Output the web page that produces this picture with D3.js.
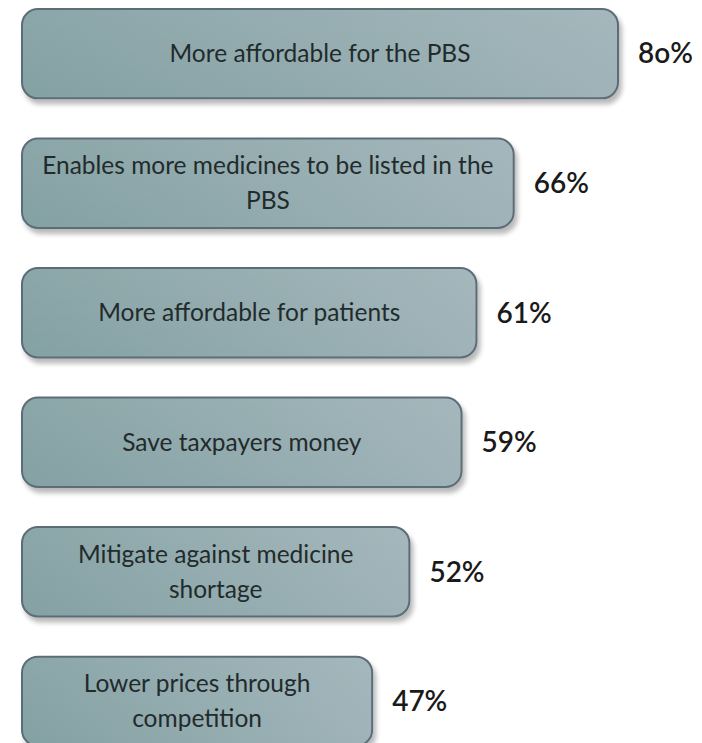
<!DOCTYPE html>
<html>
<head>
<meta charset="utf-8">
<script src="https://cdn.jsdelivr.net/npm/d3@7"></script>
<style>
  html, body { margin: 0; padding: 0; background: #ffffff; }
  svg { display: block; }
</style>
</head>
<body>
<div id="chart"></div>
<script>
// ---- data ----
const categories = [
  "More affordable for the PBS",
  "Enables more medicines to be listed in the PBS",
  "More affordable for patients",
  "Save taxpayers money",
  "Mitigate against medicine shortage",
  "Lower prices through competition"
];
const values = [80, 66, 61, 59, 52, 47];
const valueLabels = ["8o%", "66%", "61%", "59%", "52%", "47%"];
// manual line breaks for the bar text
const categoryLines = [
  ["More affordable for the PBS"],
  ["Enables more medicines to be listed in the", "PBS"],
  ["More affordable for patients"],
  ["Save taxpayers money"],
  ["Mitigate against medicine", "shortage"],
  ["Lower prices through", "competition"]
];

// ---- layout ----
const W = 702, H = 743;
const svg = d3.select("#chart").append("svg").attr("width", W).attr("height", H);

const x = d3.scaleLinear().domain([0, 100]).range([22, 767]);
const y = d3.scaleBand().domain(categories).range([9, 746]).paddingInner(0.31).paddingOuter(0);

const defs = svg.append("defs");
const grad = defs.append("linearGradient").attr("id", "barGrad")
  .attr("x1", "0%").attr("y1", "0%").attr("x2", "100%").attr("y2", "0%");
grad.append("stop").attr("offset", "0%").attr("stop-color", "#84a1a3");
grad.append("stop").attr("offset", "100%").attr("stop-color", "#9fb3b8");

const vgrad = defs.append("linearGradient").attr("id", "barShade")
  .attr("x1", "0%").attr("y1", "0%").attr("x2", "0%").attr("y2", "100%");
vgrad.append("stop").attr("offset", "0%").attr("stop-color", "#ffffff").attr("stop-opacity", 0.06);
vgrad.append("stop").attr("offset", "100%").attr("stop-color", "#ffffff").attr("stop-opacity", 0.0);

const filt = defs.append("filter").attr("id", "shadow")
  .attr("x", "-5%").attr("y", "-10%").attr("width", "115%").attr("height", "135%");
filt.append("feGaussianBlur").attr("in", "SourceAlpha").attr("stdDeviation", 2.5).attr("result", "b");
filt.append("feOffset").attr("in", "b").attr("dx", 3).attr("dy", 5).attr("result", "o");
filt.append("feComponentTransfer").attr("in", "o").attr("result", "s")
  .append("feFuncA").attr("type", "linear").attr("slope", 0.28);
const merge = filt.append("feMerge");
merge.append("feMergeNode").attr("in", "s");
merge.append("feMergeNode").attr("in", "SourceGraphic");

const rows = svg.selectAll("g.row").data(categories).join("g").attr("class", "row");

rows.append("rect")
  .attr("x", x(0))
  .attr("y", d => y(d))
  .attr("width", (d, i) => x(values[i]) - x(0))
  .attr("height", y.bandwidth())
  .attr("rx", 16).attr("ry", 16)
  .attr("fill", "url(#barGrad)")
  .attr("stroke", "#5d6d78")
  .attr("stroke-width", 2)
  .attr("filter", "url(#shadow)");

rows.append("rect")
  .attr("x", x(0) + 1)
  .attr("y", d => y(d) + 1)
  .attr("width", (d, i) => x(values[i]) - x(0) - 2)
  .attr("height", y.bandwidth() - 2)
  .attr("rx", 15).attr("ry", 15)
  .attr("fill", "url(#barShade)");

const fontFam = "Lato, 'Open Sans', sans-serif";
const lineH = 35;

rows.each(function(d, i) {
  const g = d3.select(this);
  const lines = categoryLines[i];
  const cx = (x(0) + x(values[i])) / 2;
  const cy = y(d) + y.bandwidth() / 2;
  const t = g.append("text")
    .attr("x", cx)
    .attr("text-anchor", "middle")
    .attr("font-family", fontFam)
    .attr("font-size", 24.5)
    .attr("fill", "#222b2c");
  lines.forEach((ln, k) => {
    t.append("tspan")
      .attr("x", cx)
      .attr("y", cy + (k - (lines.length - 1) / 2) * lineH)
      .attr("dy", "0.35em")
      .text(ln);
  });
});

rows.append("text")
  .attr("x", (d, i) => x(values[i]) + 20)
  .attr("y", d => y(d) + y.bandwidth() / 2)
  .attr("dy", "0.35em")
  .attr("font-family", fontFam)
  .attr("font-size", 28)
  .attr("font-weight", 600)
  .attr("fill", "#1a1a1a")
  .text((d, i) => valueLabels[i]);
</script>
</body>
</html>
